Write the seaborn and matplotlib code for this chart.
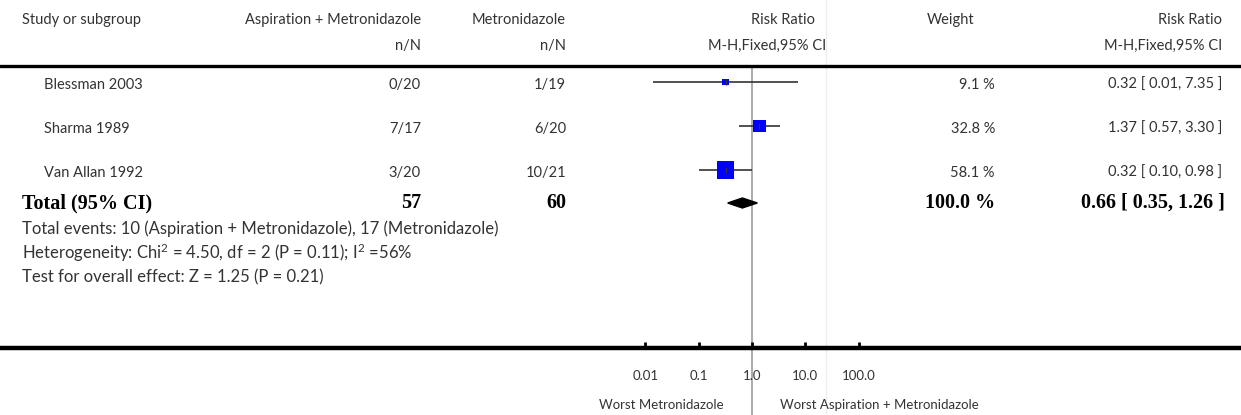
import numpy as np
import pandas as pd
import matplotlib
matplotlib.use("Agg")
import matplotlib.pyplot as plt
import seaborn as sns

# data
studies = ["Blessman 2003", "Sharma 1989", "Van Allan 1992"]
treat_nN = ["0/20", "7/17", "3/20"]
ctrl_nN = ["1/19", "6/20", "10/21"]
rr = [0.32, 1.37, 0.32]
ci_low = [0.0137, 0.57, 0.10]
ci_high = [7.35, 3.30, 0.98]
weights = [9.1, 32.8, 58.1]
rr_text = ["0.32 [ 0.01, 7.35 ]", "1.37 [ 0.57, 3.30 ]", "0.32 [ 0.10, 0.98 ]"]
total_n = ["57", "60"]
total_rr = 0.66
total_ci = (0.35, 1.26)
total_weight = "100.0 %"
total_text = "0.66 [ 0.35, 1.26 ]"
axis_ticks = [0.01, 0.1, 1.0, 10.0, 100.0]
axis_labels = ["0.01", "0.1", "1.0", "10.0", "100.0"]
footer = [
    "Total events: 10 (Aspiration + Metronidazole), 17 (Metronidazole)",
    "Heterogeneity: Chi$^{2}$ = 4.50, df = 2 (P = 0.11); I$^{2}$ =56%",
    "Test for overall effect: Z = 1.25 (P = 0.21)",
]

sns.set_theme(style="white")
plt.rcParams["font.family"] = ["Lato", "DejaVu Sans"]
plt.rcParams["mathtext.fontset"] = "custom"
plt.rcParams["mathtext.rm"] = "Lato"
plt.rcParams["mathtext.it"] = "Lato"

W, H = 1241, 415
fig = plt.figure(figsize=(W / 100, H / 100), dpi=100)
ax = fig.add_axes([0, 0, 1, 1])

# log axis: 1.0 sits at pixel 752, one decade = 53.3 px
x1, dec = 752, 53.3
ax.set_xscale("log")
ax.set_xlim(10 ** (-x1 / dec), 10 ** ((W - x1) / dec))
ax.set_ylim(H, 0)
ax.axis("off")

def fx(px):
    return px / W

T = ax.get_yaxis_transform()
fs = 10.5
col = "#333333"

row_y = [82 + 44 * i for i in range(len(studies))]
df = pd.DataFrame({"study": studies, "rr": rr, "lo": ci_low, "hi": ci_high,
                   "w": weights, "y": row_y})

# header
hdr1 = 20
hdr2 = 46
ax.text(fx(22), hdr1, "Study or subgroup", transform=T, ha="left", va="center", fontsize=fs, color=col)
ax.text(fx(421), hdr1, "Aspiration + Metronidazole", transform=T, ha="right", va="center", fontsize=fs, color=col)
ax.text(fx(421), hdr2, "n/N", transform=T, ha="right", va="center", fontsize=fs, color=col)
ax.text(fx(566), hdr1, "Metronidazole", transform=T, ha="right", va="center", fontsize=fs, color=col)
ax.text(fx(566), hdr2, "n/N", transform=T, ha="right", va="center", fontsize=fs, color=col)
ax.text(fx(815), hdr1, "Risk Ratio", transform=T, ha="right", va="center", fontsize=fs, color=col)
ax.text(fx(826), hdr2, "M-H,Fixed,95% CI", transform=T, ha="right", va="center", fontsize=fs, color=col)
ax.text(fx(951), hdr1, "Weight", transform=T, ha="center", va="center", fontsize=fs, color=col)
ax.text(fx(1222), hdr1, "Risk Ratio", transform=T, ha="right", va="center", fontsize=fs, color=col)
ax.text(fx(1222), hdr2, "M-H,Fixed,95% CI", transform=T, ha="right", va="center", fontsize=fs, color=col)

# rules
ax.axvline(10 ** ((826 - x1) / dec), color="#eeeeee", lw=1, zorder=0)
ax.vlines(1.0, 66, H, color="#aaaaaa", lw=1.4, zorder=1)
ax.axhline(66, color="black", lw=2.4, zorder=2)
ax.axhline(348, color="black", lw=3.2, zorder=2)

# study rows
for i, r in df.iterrows():
    ax.hlines(r.y, r.lo, r.hi, color="#333333", lw=1.2, zorder=2)
    ax.text(fx(44), r.y + 3, r.study, transform=T, ha="left", va="center", fontsize=fs, color=col)
    ax.text(fx(421), r.y + 3, treat_nN[i], transform=T, ha="right", va="center", fontsize=fs, color=col)
    ax.text(fx(566), r.y + 3, ctrl_nN[i], transform=T, ha="right", va="center", fontsize=fs, color=col)
    ax.text(fx(995), r.y + 3, f"{r.w:.1f} %", transform=T, ha="right", va="center", fontsize=fs, color=col)
    ax.text(fx(1222), r.y + 3, rr_text[i], transform=T, ha="right", va="center", fontsize=fs, color=col)

sns.scatterplot(data=df, x="rr", y="y", size="w", sizes=(24, 150), size_norm=(9.1, 58.1),
                marker="s", color="#0000ff", linewidth=0, legend=False, ax=ax, zorder=3)
ax.scatter(df.rr, df.y, marker="|", s=20, color="#333333", lw=1, zorder=4)

# total row
ty = 203
lo, hi = total_ci
ax.fill([lo, total_rr, hi, total_rr], [ty, ty - 5, ty, ty + 5], color="black", zorder=3)
bold = dict(fontsize=14.5, fontweight="bold", family="Liberation Serif", color="black", transform=T, va="center")
ax.text(fx(22), ty, "Total (95% CI)", ha="left", **bold)
ax.text(fx(421), ty, total_n[0], ha="right", **bold)
ax.text(fx(566), ty, total_n[1], ha="right", **bold)
ax.text(fx(995), ty, total_weight, ha="right", **bold)
ax.text(fx(1225), ty, total_text, ha="right", **bold)

for k, line in enumerate(footer):
    ax.text(fx(22), 229 + 24 * k, line, transform=T, ha="left", va="center", fontsize=12, color=col)

# axis ticks and labels
ax.vlines(axis_ticks, 342, 348, color="black", lw=2, zorder=2)
for t, lab in zip(axis_ticks, axis_labels):
    ax.text(t, 376, lab, ha="center", va="center", fontsize=9.5, color=col)
ax.text(fx(724), 405, "Worst Metronidazole", transform=T, ha="right", va="center", fontsize=9.5, color=col)
ax.text(fx(780), 405, "Worst Aspiration + Metronidazole", transform=T, ha="left", va="center", fontsize=9.5, color=col)

fig.savefig("out.png", dpi=100)
